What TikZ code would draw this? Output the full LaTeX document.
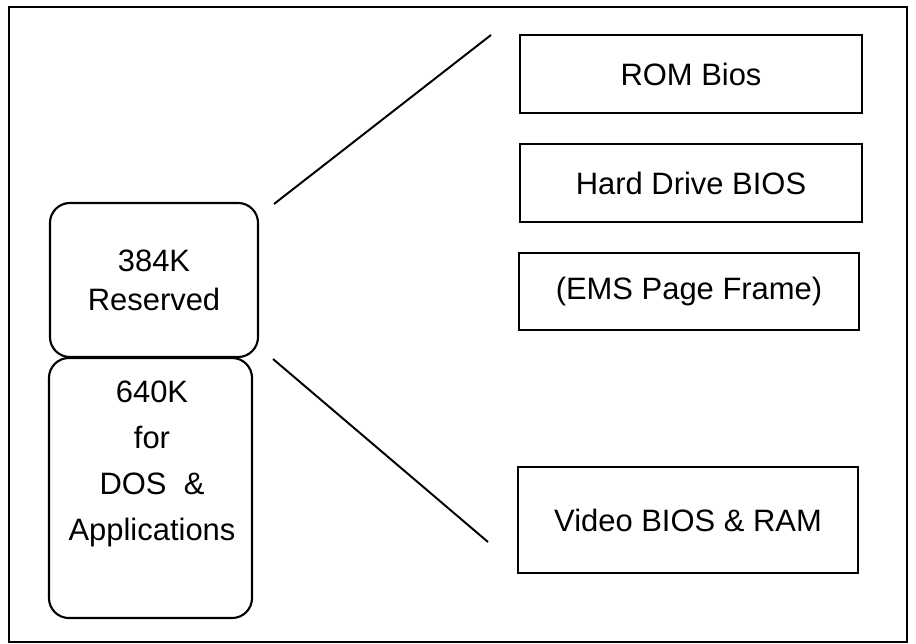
\documentclass[tikz,border=0pt]{standalone}
\usepackage{fontspec}
\setmainfont{Liberation Sans}

\begin{document}
\begin{tikzpicture}[x=0.025cm,y=-0.025cm]
      \useasboundingbox (0,0) rectangle (916,644);
      \draw[line width=2pt] (9,7) rectangle (907,642);
      \begin{scope}[every node/.style={draw,line width=1.5pt,align=center,font=\fontsize{22}{27.6}\selectfont}]
        \node[rounded corners=0.5cm,minimum width=5.2cm,minimum height=3.85cm] (res) at (154,280) {384K\\Reserved};
        \node[rounded corners=0.5cm,minimum width=5.075cm,minimum height=6.5cm] (app) at (150.5,488) {};
        \node[draw=none,font=\fontsize{22}{32.6}\selectfont] (apptxt) at (152,464) {640K\\for\\DOS\ \ \&\\Applications};
        \node[minimum width=8.55cm,minimum height=1.95cm] (rom) at (691,74) {ROM Bios};
        \node[minimum width=8.55cm,minimum height=1.95cm] (hdd) at (691,183) {Hard Drive BIOS};
        \node[minimum width=8.5cm,minimum height=1.925cm] (ems) at (689,291.5) {(EMS Page Frame)};
        \node[minimum width=8.5cm,minimum height=2.65cm] (vid) at (688,520) {Video BIOS \& RAM};
      \end{scope}
      \coordinate (upfrom) at (274,204);
      \coordinate (upto) at (491,35);
      \coordinate (lowfrom) at (273,359);
      \coordinate (lowto) at (488,542);
      \begin{scope}[every edge/.style={draw,line width=1.4pt}]
        \path (upfrom) edge (upto);
        \path (lowfrom) edge (lowto);
      \end{scope}
    \end{tikzpicture}
\end{document}
